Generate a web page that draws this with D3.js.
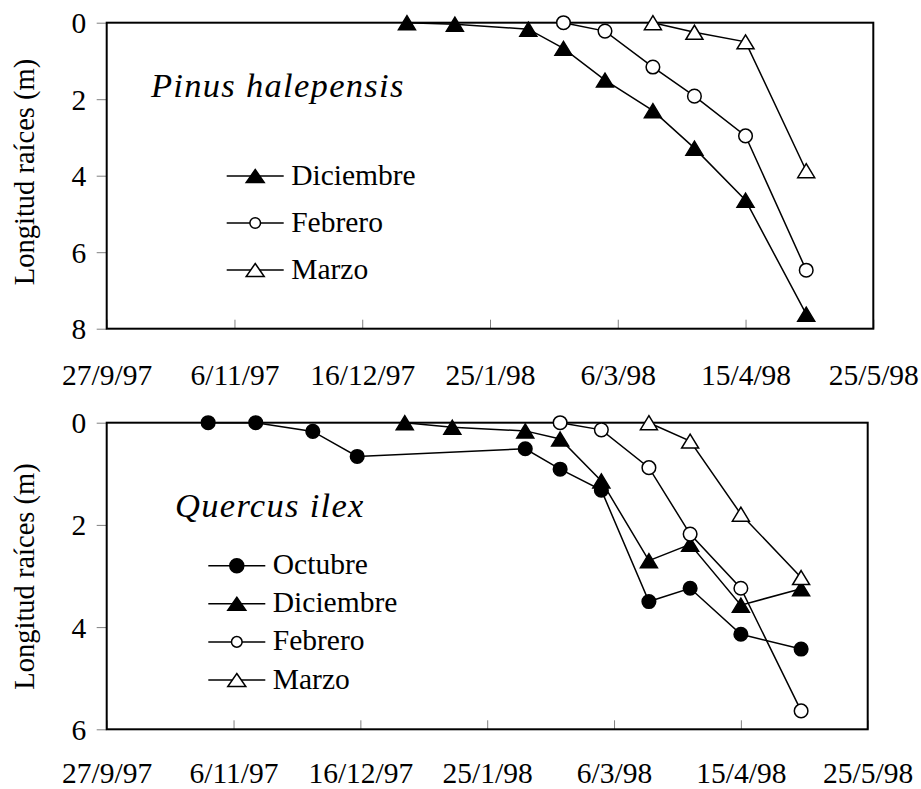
<!DOCTYPE html>
<html>
<head>
<meta charset="utf-8">
<script src="https://cdn.jsdelivr.net/npm/d3@7"></script>
<style>
  html, body { margin: 0; padding: 0; background: #fff; }
  svg { display: block; }
  text { font-family: "Liberation Serif", "Times New Roman", serif; fill: #000; }
</style>
</head>
<body>
<svg id="chart" width="921" height="789"></svg>
<script>
// ---- data ----
const dateTicks = ["1997-09-27", "1997-11-06", "1997-12-16", "1998-01-25", "1998-03-06", "1998-04-15", "1998-05-25"];

// Pinus halepensis (root length, m)
const pinusDiciembreDates  = ["1997-12-30", "1998-01-14", "1998-02-06", "1998-02-17", "1998-03-02", "1998-03-17", "1998-03-30", "1998-04-15", "1998-05-04"];
const pinusDiciembreValues = [0, 0.04, 0.17, 0.67, 1.50, 2.30, 3.28, 4.64, 7.62];
const pinusFebreroDates    = ["1998-02-17", "1998-03-02", "1998-03-17", "1998-03-30", "1998-04-15", "1998-05-04"];
const pinusFebreroValues   = [0, 0.22, 1.16, 1.92, 2.96, 6.47];
const pinusMarzoDates      = ["1998-03-17", "1998-03-30", "1998-04-15", "1998-05-04"];
const pinusMarzoValues     = [0, 0.25, 0.50, 3.87];
const pinusYTicks = [0, 2, 4, 6, 8];

// Quercus ilex (root length, m)
const quercusOctubreDates   = ["1997-10-29", "1997-11-13", "1997-12-01", "1997-12-15", "1998-02-06", "1998-02-17", "1998-03-02", "1998-03-17", "1998-03-30", "1998-04-15", "1998-05-04"];
const quercusOctubreValues  = [0, 0, 0.17, 0.66, 0.51, 0.91, 1.32, 3.50, 3.24, 4.14, 4.43];
const quercusDiciembreDates  = ["1997-12-30", "1998-01-14", "1998-02-06", "1998-02-17", "1998-03-02", "1998-03-17", "1998-03-30", "1998-04-15", "1998-05-04"];
const quercusDiciembreValues = [0, 0.09, 0.16, 0.32, 1.14, 2.70, 2.38, 3.57, 3.25];
const quercusFebreroDates   = ["1998-02-17", "1998-03-02", "1998-03-17", "1998-03-30", "1998-04-15", "1998-05-04"];
const quercusFebreroValues  = [0, 0.14, 0.88, 2.18, 3.24, 5.64];
const quercusMarzoDates     = ["1998-03-17", "1998-03-30", "1998-04-15", "1998-05-04"];
const quercusMarzoValues    = [0, 0.36, 1.79, 3.03];
const quercusYTicks = [0, 2, 4, 6];

const yTitle = "Longitud raíces (m)";

// ---- drawing ----
const parse = d3.utcParse("%Y-%m-%d");
const fmt = d3.utcFormat("%-d/%-m/%y");
const svg = d3.select("#chart");
const FONT = 29.5;
const FAMILY = "Liberation Serif, Times New Roman, serif";

function zip(dates, values) {
  return dates.map((d, i) => ({ date: parse(d), value: values[i] }));
}

// marker shapes: triangle centred on its bounding box, circle
function drawMarker(g, kind, x, y, sz) {
  const filled = kind === "triFilled" || kind === "dotFilled";
  if (kind.startsWith("tri")) {
    const hw = sz.triW, hh = sz.triH;
    g.append("path")
      .attr("d", `M${x},${y - hh}L${x + hw},${y + hh}L${x - hw},${y + hh}Z`)
      .attr("fill", filled ? "#000" : "#fff")
      .attr("stroke", "#000")
      .attr("stroke-width", 1.5)
      .attr("stroke-linejoin", "miter");
  } else {
    g.append("circle")
      .attr("cx", x).attr("cy", y).attr("r", filled ? sz.dotR : sz.ringR)
      .attr("fill", filled ? "#000" : "#fff")
      .attr("stroke", "#000")
      .attr("stroke-width", 1.5);
  }
}

const plotMarker = { triW: 8.5, triH: 7, dotR: 6.8, ringR: 6.8 };
const legendMarker = { triW: 9, triH: 6.5, dotR: 7, ringR: 5.3 };

function drawPanel(cfg) {
  const x = d3.scaleUtc()
    .domain([parse(dateTicks[0]), parse(dateTicks[dateTicks.length - 1])])
    .range([cfg.left, cfg.right]);
  const y = d3.scaleLinear()
    .domain([0, cfg.yTicks[cfg.yTicks.length - 1]])
    .range([cfg.top, cfg.bottom]);

  const g = svg.append("g");

  // y axis (ticks outside, grey)
  const yAxis = g.append("g")
    .attr("transform", `translate(${cfg.left},0)`)
    .call(d3.axisLeft(y).tickValues(cfg.yTicks).tickFormat(d3.format("d"))
      .tickSizeInner(10).tickSizeOuter(0).tickPadding(10.5));
  yAxis.select(".domain").remove();
  yAxis.selectAll(".tick line").attr("stroke", "#808080").attr("stroke-width", 1);
  yAxis.selectAll(".tick text")
    .attr("font-size", FONT)
    .attr("font-family", FAMILY)
    .attr("dy", "0.34em");

  // x axis (ticks inside, grey)
  const xAxis = g.append("g")
    .attr("transform", `translate(0,${cfg.bottom})`)
    .call(d3.axisBottom(x).tickValues(dateTicks.map(parse)).tickFormat(fmt)
      .tickSizeInner(-9).tickSizeOuter(0).tickPadding(0));
  xAxis.select(".domain").remove();
  xAxis.selectAll(".tick line").attr("stroke", "#808080").attr("stroke-width", 1);
  xAxis.selectAll(".tick text")
    .attr("font-size", FONT)
    .attr("font-family", FAMILY)
    .attr("y", cfg.xLabelBaseline)
    .attr("dy", 0);

  // plot frame
  g.append("rect")
    .attr("x", cfg.left).attr("y", cfg.top)
    .attr("width", cfg.right - cfg.left).attr("height", cfg.bottom - cfg.top)
    .attr("fill", "none").attr("stroke", "#000").attr("stroke-width", 2);

  // y title
  g.append("text")
    .attr("transform", `translate(34,${cfg.titleCenter}) rotate(-90)`)
    .attr("text-anchor", "middle")
    .attr("font-size", 28.5)
    .text(yTitle);

  // species name
  g.append("text")
    .attr("x", cfg.speciesX).attr("y", cfg.speciesY)
    .attr("font-size", 34.5)
    .attr("font-style", "italic")
    .attr("letter-spacing", 1.3)
    .text(cfg.species);

  // series
  const line = d3.line().x(d => x(d.date)).y(d => y(d.value));
  cfg.series.forEach(s => {
    const pts = zip(s.dates, s.values);
    g.append("path")
      .attr("d", line(pts))
      .attr("fill", "none")
      .attr("stroke", "#000")
      .attr("stroke-width", 1.5);
    const mg = g.append("g");
    pts.forEach(p => drawMarker(mg, s.marker, x(p.date), y(p.value), plotMarker));
  });

  // legend
  cfg.series.forEach((s, i) => {
    const ly = cfg.legendY + i * cfg.legendStep;
    g.append("line")
      .attr("x1", cfg.legendX).attr("x2", cfg.legendX + 57)
      .attr("y1", ly).attr("y2", ly)
      .attr("stroke", "#000").attr("stroke-width", 1.5);
    drawMarker(g, s.marker, cfg.legendX + 28.5, ly, legendMarker);
    g.append("text")
      .attr("x", cfg.legendX + 64.5).attr("y", ly + 8.5)
      .attr("font-size", FONT)
      .text(s.name);
  });
}

drawPanel({
  left: 106.7, right: 873.3, top: 22.7, bottom: 328.7,
  yTicks: pinusYTicks,
  xLabelBaseline: 56,
  titleCenter: 172,
  species: "Pinus halepensis", speciesX: 151, speciesY: 96.7,
  legendX: 226.7, legendY: 176, legendStep: 47,
  series: [
    { name: "Diciembre", marker: "triFilled", dates: pinusDiciembreDates, values: pinusDiciembreValues },
    { name: "Febrero",   marker: "dotOpen",   dates: pinusFebreroDates,   values: pinusFebreroValues },
    { name: "Marzo",     marker: "triOpen",   dates: pinusMarzoDates,     values: pinusMarzoValues }
  ]
});

drawPanel({
  left: 106.7, right: 867.7, top: 422.7, bottom: 729.3,
  yTicks: quercusYTicks,
  xLabelBaseline: 53.5,
  titleCenter: 576.5,
  species: "Quercus ilex", speciesX: 175, speciesY: 517,
  legendX: 208.3, legendY: 565.7, legendStep: 38.1,
  series: [
    { name: "Octubre",   marker: "dotFilled", dates: quercusOctubreDates,   values: quercusOctubreValues },
    { name: "Diciembre", marker: "triFilled", dates: quercusDiciembreDates, values: quercusDiciembreValues },
    { name: "Febrero",   marker: "dotOpen",   dates: quercusFebreroDates,   values: quercusFebreroValues },
    { name: "Marzo",     marker: "triOpen",   dates: quercusMarzoDates,     values: quercusMarzoValues }
  ]
});
</script>
</body>
</html>
